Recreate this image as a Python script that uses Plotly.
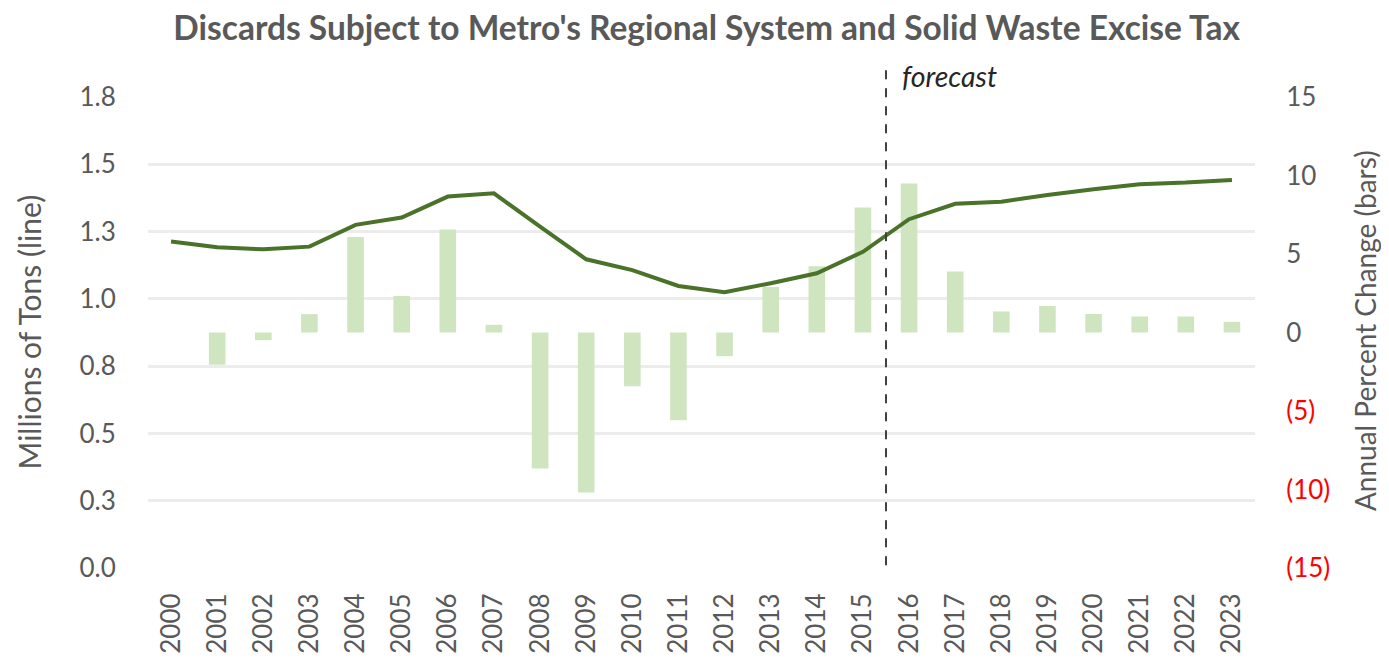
import plotly.graph_objects as go

years = [str(y) for y in range(2000, 2024)]
tons = [1.213, 1.192, 1.184, 1.194, 1.275, 1.302, 1.380, 1.392, 1.268, 1.147, 1.107, 1.048,
        1.025, 1.058, 1.095, 1.175, 1.296, 1.353, 1.361, 1.386, 1.407, 1.426, 1.432, 1.442]
pct_change = [None, -2.05, -0.49, 1.17, 6.09, 2.33, 6.56, 0.49, -8.66, -10.19, -3.42, -5.59,
              -1.51, 2.9, 4.22, 7.96, 9.49, 3.89, 1.34, 1.69, 1.18, 1.02, 1.02, 0.68]
left_tickvals = [0, 0.25, 0.5, 0.75, 1.0, 1.25, 1.5, 1.75]
left_ticktext = ["0.0", "0.3", "0.5", "0.8", "1.0", "1.3", "1.5", "1.8"]
right_tickvals = [-15, -10, -5, 0, 5, 10, 15]
right_ticktext = ["<span style='color:#ff0000'>(15)</span>",
                  "<span style='color:#ff0000'>(10)</span>",
                  "<span style='color:#ff0000'>(5)</span>", "0", "5", "10", "15"]
forecast_pos = 15.5

FONT = "Lato"
GRAY = "#595959"
TICK = 26

fig = go.Figure()
fig.add_trace(go.Bar(x=years, y=pct_change, yaxis="y", marker=dict(color="#cfe5c0", line=dict(width=0)),
                     name="Annual Percent Change", showlegend=False))
fig.add_trace(go.Scatter(x=years, y=tons, yaxis="y2", mode="lines",
                         line=dict(color="#4a7229", width=4), name="Millions of Tons", showlegend=False))

fig.add_shape(type="line", xref="x", yref="paper", x0=forecast_pos, x1=forecast_pos, y0=0.006, y1=1.074,
              line=dict(color="#404040", width=2, dash="dash"), layer="above")
fig.add_annotation(xref="x", yref="paper", x=forecast_pos, y=1.045, text="<i>forecast</i>", showarrow=False,
                   xanchor="left", yanchor="middle", xshift=14, font=dict(family=FONT, size=28.5, color="#262626"))
fig.add_annotation(xref="paper", yref="paper", x=0, y=0.5, xshift=-120, text="Millions of Tons (line)",
                   textangle=-90, showarrow=False, xanchor="center", yanchor="middle",
                   font=dict(family=FONT, size=30, color=GRAY))
fig.add_annotation(xref="paper", yref="paper", x=1, y=0.503, xshift=110, text="Annual Percent Change (bars)",
                   textangle=-90, showarrow=False, xanchor="center", yanchor="middle",
                   font=dict(family=FONT, size=28, color=GRAY))

fig.update_layout(
    width=1389, height=659,
    margin=dict(l=140, r=142, t=89, b=99, autoexpand=False),
    paper_bgcolor="white", plot_bgcolor="white",
    bargap=0.64,
    title=dict(text="<b>Discards Subject to Metro's Regional System and Solid Waste Excise Tax</b>",
               x=0.503, xanchor="center", y=0.9697, yanchor="middle",
               font=dict(family=FONT, size=33.5, color=GRAY)),
    font=dict(family=FONT, color=GRAY),
    xaxis=dict(type="category", tickangle=-90, showgrid=False, showline=False, zeroline=False,
               automargin=False,
               tickfont=dict(family=FONT, size=TICK, color=GRAY), ticks="outside", ticklen=14,
               tickcolor="rgba(0,0,0,0)"),
    yaxis=dict(side="right", range=[-15, 15], tickvals=right_tickvals, ticktext=right_ticktext,
               showgrid=False, zeroline=False, showline=False, automargin=False,
               tickfont=dict(family=FONT, size=TICK, color=GRAY), ticks="outside", ticklen=25,
               tickcolor="rgba(0,0,0,0)"),
    yaxis2=dict(overlaying="y", side="left", range=[0, 1.75], tickvals=left_tickvals, ticktext=left_ticktext,
                showgrid=True, gridcolor="#ececec", gridwidth=3, zeroline=False, showline=False,
                automargin=False,
                tickfont=dict(family=FONT, size=TICK, color=GRAY), ticks="outside", ticklen=26,
                tickcolor="rgba(0,0,0,0)"),
)

fig.write_html("out.html")
